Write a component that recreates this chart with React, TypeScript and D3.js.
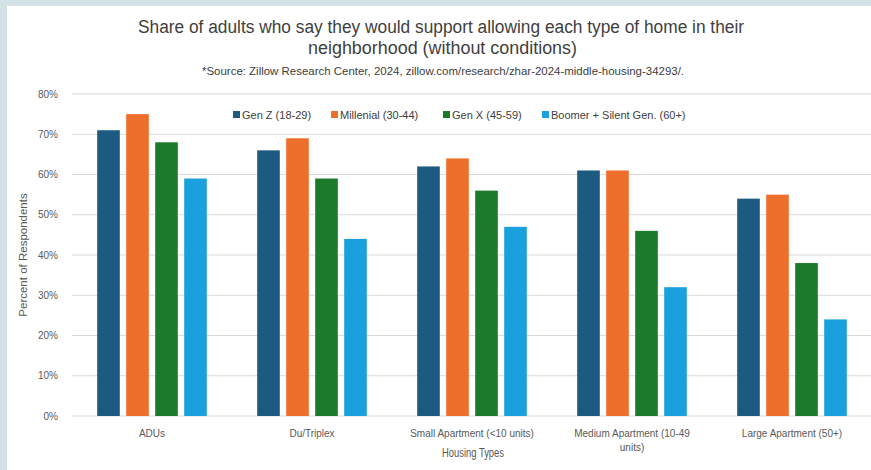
import React from "react";
import * as d3 from "d3";

const categories = ["ADUs", "Du/Triplex", "Small Apartment (<10 units)", "Medium Apartment (10-49 units)", "Large Apartment (50+)"];
const categoryLines = [["ADUs"], ["Du/Triplex"], ["Small Apartment (<10 units)"], ["Medium Apartment (10-49", "units)"], ["Large Apartment (50+)"]];
const seriesNames = ["Gen Z (18-29)", "Millenial (30-44)", "Gen X (45-59)", "Boomer + Silent Gen. (60+)"];
const seriesColors = ["#1d5a82", "#ee6e2c", "#1c7a2b", "#1aa0dc"];
const genZ = [71, 66, 62, 61, 54];
const millenial = [75, 69, 64, 61, 55];
const genX = [68, 59, 56, 46, 38];
const boomer = [59, 44, 47, 32, 24];
const yTicks = [0, 10, 20, 30, 40, 50, 60, 70, 80];
const legendX = [233, 331, 443, 542];

const W = 871;
const H = 470;
const FONT = "'Liberation Sans', Arial, sans-serif";

export default function App() {
  const values = [genZ, millenial, genX, boomer];
  const x = d3.scaleBand<string>().domain(categories).range([72, 872]).padding(0);
  const xs = d3.scaleBand<string>().domain(seriesNames).range([-58, 58]).paddingInner(0.22).paddingOuter(0.11);
  const y = d3.scaleLinear().domain([0, 80]).range([416, 94]);

  return (
    <svg width={W} height={H} style={{ position: "absolute", left: 0, top: 0, fontFamily: FONT }}>
      <rect x={0} y={0} width={W} height={H} fill="#d3e2e7" />
      <rect x={7} y={6} width={W - 7} height={H - 6} fill="#ffffff" />
      <text x={441} y={33} textAnchor="middle" fontSize={18} fill="#404040" textLength={606} lengthAdjust="spacingAndGlyphs">
        Share of adults who say they would support allowing each type of home in their
      </text>
      <text x={442.5} y={54} textAnchor="middle" fontSize={18} fill="#404040" textLength={269} lengthAdjust="spacingAndGlyphs">
        neighborhood (without conditions)
      </text>
      <text x={443} y={75} textAnchor="middle" fontSize={10.5} fill="#404040" textLength={482} lengthAdjust="spacingAndGlyphs">
        *Source: Zillow Research Center, 2024, zillow.com/research/zhar-2024-middle-housing-34293/.
      </text>
      {yTicks.map((t) => (
        <g key={t}>
          {t > 0 && <line x1={72} x2={871} y1={y(t)} y2={y(t)} stroke="#d9d9d9" strokeWidth={1} />}
          <text x={58} y={y(t) + 3.5} textAnchor="end" fontSize={10} fill="#595959">{t + "%"}</text>
        </g>
      ))}
      <line x1={72} x2={871} y1={y(0)} y2={y(0)} stroke="#d9d9d9" strokeWidth={1} />
      <rect x={225} y={106} width={470} height={18} fill="#ffffff" />
      {seriesNames.map((s, i) => (
        <g key={s}>
          <rect x={legendX[i]} y={111} width={7} height={7} fill={seriesColors[i]} />
          <text x={legendX[i] + 9} y={118.5} fontSize={11} fill="#404040">{s}</text>
        </g>
      ))}
      {categories.map((c, ci) => (
        <g key={c} transform={`translate(${(x(c) as number) + x.bandwidth() / 2},0)`}>
          {seriesNames.map((s, si) => (
            <rect key={s} x={xs(s) as number} width={xs.bandwidth()} y={y(values[si][ci])} height={y(0) - y(values[si][ci])} fill={seriesColors[si]} />
          ))}
          {categoryLines[ci].map((ln, li) => (
            <text key={li} x={0} y={437 + li * 14} textAnchor="middle" fontSize={10} fill="#595959">{ln}</text>
          ))}
        </g>
      ))}
      <text x={473} y={457} textAnchor="middle" fontSize={12} fill="#595959" textLength={62} lengthAdjust="spacingAndGlyphs">Housing Types</text>
      <text transform={`translate(27,${y(40)}) rotate(-90)`} textAnchor="middle" fontSize={11.5} fill="#595959">Percent of Respondents</text>
    </svg>
  );
}
